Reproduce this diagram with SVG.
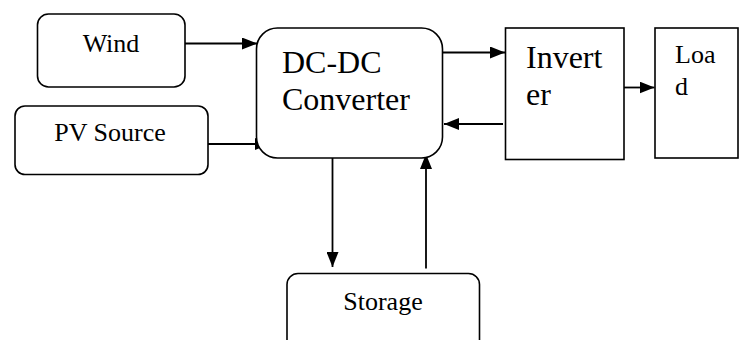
<svg xmlns="http://www.w3.org/2000/svg" width="742" height="340" viewBox="0 0 742 340">
  <style>
    .box { fill: #fff; stroke: #000; stroke-width: 1.6; }
    .lbl { font-family: "Liberation Serif", "Times New Roman", serif; fill: #000; }
    .conn { stroke: #000; stroke-width: 1.8; fill: none; marker-end: url(#arrow); }
  </style>
  <defs>
    <marker id="arrow" viewBox="0 0 15 12" refX="15" refY="6" markerWidth="15" markerHeight="12" markerUnits="userSpaceOnUse" orient="auto">
      <path d="M0,0 L15,6 L0,12 Z" fill="#000"/>
    </marker>
  </defs>
  <rect width="742" height="340" fill="#fff"/>

  <g id="connectors">
    <line class="conn" x1="185" y1="43.5" x2="257" y2="43.5"/>
    <line class="conn" x1="208" y1="144" x2="270" y2="144"/>
    <line class="conn" x1="442.5" y1="52.5" x2="505" y2="52.5"/>
    <line class="conn" x1="503" y1="124" x2="444" y2="124"/>
    <line class="conn" x1="624" y1="87.5" x2="654.5" y2="87.5"/>
    <line class="conn" x1="332.5" y1="158" x2="332.5" y2="267"/>
    <line class="conn" x1="426" y1="268.5" x2="426" y2="154"/>
  </g>

  <g id="wind">
    <rect class="box" x="37.5" y="14" width="147.5" height="73" rx="11"/>
    <text class="lbl" x="111" y="52" font-size="26" text-anchor="middle">Wind</text>
  </g>

  <g id="pv-source">
    <rect class="box" x="15" y="106" width="193" height="68.5" rx="10"/>
    <text class="lbl" x="110" y="141" font-size="26" text-anchor="middle">PV Source</text>
  </g>

  <g id="dc-dc-converter">
    <rect class="box" x="256.5" y="28" width="186" height="130" rx="21"/>
    <text class="lbl" x="282" y="73" font-size="32">DC-DC</text>
    <text class="lbl" x="282" y="110" font-size="32">Converter</text>
  </g>

  <g id="inverter">
    <rect class="box" x="505.5" y="28" width="118.5" height="131.5"/>
    <text class="lbl" x="526" y="68" font-size="32">Invert</text>
    <text class="lbl" x="526" y="105" font-size="32">er</text>
  </g>

  <g id="load">
    <rect class="box" x="655" y="28" width="83" height="130"/>
    <text class="lbl" x="675" y="63" font-size="26">Loa</text>
    <text class="lbl" x="675" y="95" font-size="26">d</text>
  </g>

  <g id="storage">
    <rect class="box" x="287" y="273.5" width="192.5" height="80" rx="11"/>
    <text class="lbl" x="383" y="310" font-size="26" text-anchor="middle">Storage</text>
  </g>
</svg>
